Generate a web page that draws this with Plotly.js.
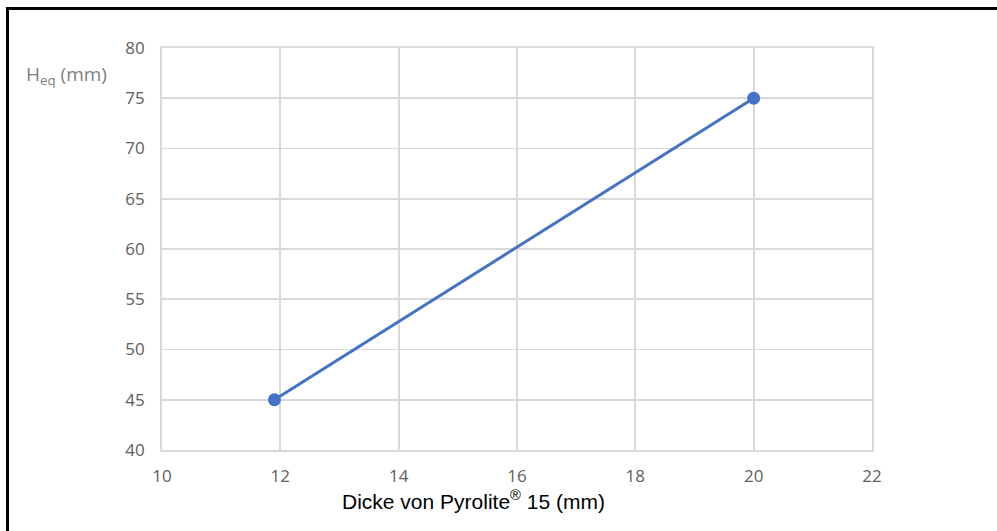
<!DOCTYPE html>
<html><head><meta charset="utf-8">
<script src="https://cdn.plot.ly/plotly-3.0.1.min.js"></script>
<style>
html,body{margin:0;padding:0;background:#fff;overflow:hidden;}
#frame{position:absolute;left:6px;top:7px;width:1200px;height:800px;border-top:3px solid #000;border-left:3px solid #000;pointer-events:none;z-index:10;}
#chart{width:997px;height:531px;}
</style></head>
<body>
<div id="frame"></div>
<div id="chart"></div>
<script>
const thickness = [11.9, 20];
const heq = [45, 75];
const xTicks = [10, 12, 14, 16, 18, 20, 22];
const yTicks = [40, 45, 50, 55, 60, 65, 70, 75, 80];

const trace = {
  x: thickness, y: heq, type: 'scatter', mode: 'lines+markers',
  line: {color: '#4472c4', width: 3},
  marker: {color: '#4472c4', size: 13},
  cliponaxis: false, showlegend: false, hoverinfo: 'none'
};
const tickFont = {family: 'Open Sans, sans-serif', size: 17, color: '#606060'};
const layout = {
  width: 997, height: 531,
  margin: {l: 162, r: 125, t: 48, b: 81},
  paper_bgcolor: '#fff', plot_bgcolor: '#fff',
  xaxis: {range: [10, 22], tickvals: xTicks, ticktext: xTicks.map(String),
    showgrid: true, gridcolor: '#d9d9d9', gridwidth: 1.8,
    showline: true, linecolor: '#d9d9d9', linewidth: 1.8, mirror: true,
    zeroline: false, ticks: '', ticklabelstandoff: 10, tickfont: tickFont, fixedrange: true},
  yaxis: {range: [40, 80], tickvals: yTicks, ticktext: yTicks.map(String),
    showgrid: true, gridcolor: '#d9d9d9', gridwidth: 1.8,
    showline: true, linecolor: '#d9d9d9', linewidth: 1.8, mirror: true,
    zeroline: false, ticks: '', ticklabelstandoff: 12, tickfont: tickFont, fixedrange: true},
  annotations: [
    {text: 'Dicke von Pyrolite<sup>®</sup> 15 (mm)', xref: 'paper', yref: 'paper',
     x: (473 - 162) / 710, y: -50 / 402, xanchor: 'center', yanchor: 'middle', showarrow: false,
     font: {family: 'Liberation Sans, Arial, sans-serif', size: 21, color: '#000'}},
    {text: 'H<sub>eq</sub> (mm)', xref: 'paper', yref: 'paper',
     x: (24 - 162) / 710, y: (450 - 75) / 402, xanchor: 'left', yanchor: 'middle', showarrow: false,
     font: {family: 'Open Sans, sans-serif', size: 19, color: '#7f7f7f'}}
  ]
};
Plotly.newPlot('chart', [trace], layout, {staticPlot: true, displayModeBar: false});
</script>
</body></html>
